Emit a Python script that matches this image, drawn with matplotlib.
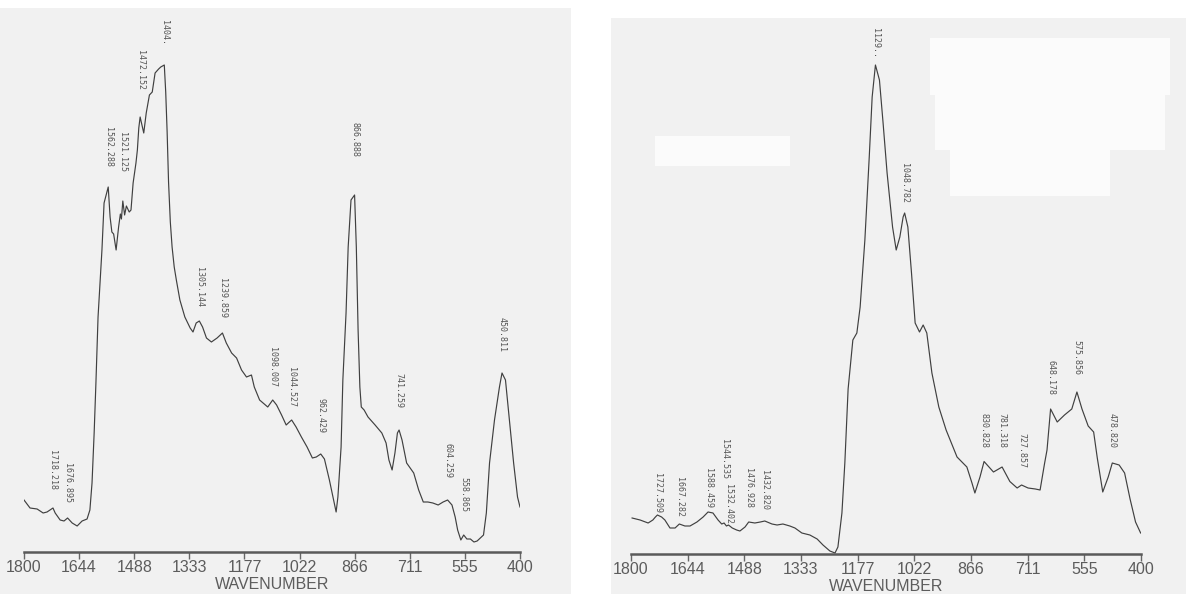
import numpy as np
import matplotlib
matplotlib.use('Agg')
import matplotlib.pyplot as plt
from matplotlib.patches import Rectangle

W, H = 1186, 594

TICK_LABELS = ['1800', '1644', '1488', '1333', '1177', '1022', '866', '711', '555', '400']

# Spectrum A (left sheet)
wn_a = [1800, 1783, 1763, 1746, 1735, 1718.2, 1712, 1698, 1687, 1677, 1664, 1650, 1636,
        1622, 1614, 1608, 1602, 1597, 1591, 1580, 1574, 1562.3, 1557, 1552, 1547, 1540,
        1533, 1528, 1525, 1521.1, 1516, 1511, 1503, 1498, 1492, 1484, 1480, 1476, 1472.2,
        1462, 1455, 1446, 1438, 1430, 1420, 1414, 1404, 1400, 1396, 1392, 1387, 1382,
        1376, 1370, 1360, 1346, 1331, 1323, 1314, 1305.1, 1296, 1285, 1271, 1255, 1239.9,
        1229, 1214, 1200, 1186, 1172, 1158, 1150, 1135, 1112, 1098, 1087, 1073, 1060,
        1051, 1044.5, 1032, 1017, 1001, 986, 975, 962.4, 952, 938, 928, 919, 914, 905,
        900, 891, 885, 877, 866.9, 862, 857, 852, 848, 840, 829, 809, 790, 778, 770, 761,
        753, 746, 741.3, 733, 720, 700, 686, 673, 660, 646, 631, 617, 604.3, 592, 583,
        576, 567, 558.9, 550, 540, 530, 521, 512, 503, 495, 486, 472, 458, 450.8, 441,
        430, 418, 407, 400]
sig_a = [10.4, 8.8, 8.6, 7.8, 8.0, 8.8, 7.8, 6.4, 6.2, 6.8, 5.8, 5.2, 6.2,
         6.6, 8.4, 13.8, 23.8, 33.8, 47.0, 60.4, 69.8, 73.0, 67.0, 64.0, 63.6, 60.4,
         65.0, 67.6, 66.6, 70.2, 67.4, 69.2, 68.0, 68.4, 73.8, 77.8, 80.4, 84.8, 87.0,
         83.8, 87.8, 91.4, 92.0, 95.8, 96.6, 97.0, 97.4, 92.0, 84.0, 74.0, 66.0, 61.0,
         57.0, 54.4, 50.4, 47.0, 44.8, 44.0, 45.8, 46.2, 45.0, 42.8, 42.0, 42.8, 43.8,
         41.8, 39.8, 38.8, 36.4, 35.0, 35.4, 33.0, 30.4, 29.0, 30.4, 29.4, 27.4, 25.4,
         26.0, 26.4, 25.0, 23.0, 21.0, 18.8, 19.0, 19.6, 18.6, 14.4, 11.0, 8.0, 11.0, 21.0,
         34.4, 47.8, 61.0, 70.4, 71.4, 61.0, 44.4, 33.0, 29.0, 28.4, 27.0, 25.4, 23.8, 21.8,
         18.4, 16.4, 19.8, 23.8, 24.4, 22.4, 17.8, 15.8, 12.4, 10.0, 10.0, 9.8, 9.4, 10.0,
         10.4, 9.4, 7.0, 4.4, 2.4, 3.4, 2.6, 2.6, 2.0, 2.2, 2.8, 3.4, 7.8, 17.8, 26.4, 33.0,
         35.8, 34.4, 26.4, 17.8, 11.0, 9.0]
peaks_a = ['1718.218', '1676.895', '1562.288', '1521.125', '1472.152', '1404.',
           '1305.144', '1239.859', '1098.007', '1044.527', '962.429', '866.888',
           '741.259', '604.259', '558.865', '450.811']
# height of the top of each peak label, in signal units
label_y_a = [20.4, 17.8, 85.0, 84.0, 100.4, 106.4, 57.0, 54.8, 41.0, 37.0, 30.8, 86.0,
             35.8, 21.8, 15.0, 47.0]

# Spectrum B (right sheet)
wn_b = [1797, 1775, 1753, 1740, 1733, 1727.5, 1716, 1707, 1693, 1679, 1667.3, 1652, 1638,
        1619, 1602, 1588.5, 1575, 1561, 1551, 1544.5, 1538, 1532.4, 1522, 1510, 1501,
        1487, 1476.9, 1460, 1445, 1432.8, 1413, 1399, 1383, 1364, 1350, 1331, 1309, 1289,
        1273, 1254, 1240, 1232, 1221, 1213, 1204, 1191, 1180, 1171, 1158, 1146, 1138,
        1129, 1118, 1108, 1097, 1082, 1072, 1062, 1053, 1048.8, 1040, 1030, 1020, 1008,
        998, 988, 974, 955, 935, 905, 878, 864, 856, 842, 830.8, 805, 781.3, 760, 740,
        727.9, 710, 690, 677, 665, 658, 648.2, 630, 610, 590, 575.9, 562, 545, 530, 520,
        505, 490, 478.8, 460, 445, 430, 415, 401]
sig_b = [7.2, 6.8, 6.2, 6.8, 7.4, 7.8, 7.4, 6.8, 5.2, 5.2, 6.0, 5.6, 5.6,
         6.4, 7.4, 8.4, 8.2, 6.8, 6.0, 6.2, 5.6, 5.8, 5.2, 4.8, 4.6,
         5.4, 6.4, 6.2, 6.4, 6.6, 6.0, 5.8, 6.0, 5.6, 5.2, 4.2, 3.8, 3.0,
         1.8, 0.6, 0.2, 1.4, 8.2, 18.2, 33.0, 42.8, 44.2, 49.4, 62.8, 79.4, 91.4,
         97.8, 94.8, 86.2, 76.2, 65.4, 60.8, 63.4, 67.4, 68.2, 65.4, 56.2, 46.2, 44.4,
         45.8, 44.2, 36.2, 29.4, 24.8, 19.4, 17.4, 14.2, 12.2, 15.4, 18.5, 16.4, 17.4, 14.5, 13.2,
         13.8, 13.2, 13.0, 12.8, 18.0, 20.8, 29.0, 26.4, 27.8, 29.0, 32.4, 29.0, 25.6, 24.4, 19.2,
         12.4, 15.4, 18.2, 17.8, 16.2, 11.0, 6.4, 4.2]
peaks_b = ['1727.509', '1667.282', '1588.459', '1544.535', '1532.402', '1476.928',
           '1432.820', '1129..', '1048.782', '830.828', '781.318', '727.857',
           '648.178', '575.856', '478.820']
label_y_b = [16.2, 15.4, 17.2, 23.0, 14.0, 17.2, 16.8, 105.2, 78.2, 28.2, 28.2, 24.2,
             38.8, 42.8, 28.2]

PAPER = '#f1f1f1'
INK = '#404040'
AXIS_FONT = 'Liberation Sans'
AXIS_GREY = '#5c5c5c'


def px_rect(x0, y0, x1, y1, color, z=0):
    # rectangle given in pixel coordinates from the top-left corner
    return Rectangle((x0 / W, 1 - y1 / H), (x1 - x0) / W, (y1 - y0) / H,
                     transform=fig.transFigure, facecolor=color, edgecolor='none', zorder=z)


def draw_spectrum(ax, wn, sig, labels, label_y):
    ax.plot(wn, sig, color=INK, linewidth=0.85)
    for text, y in zip(labels, label_y):
        ax.text(float(text.rstrip('.')), y, text, rotation=270, ha='center', va='top',
                fontsize=6.0, family='DejaVu Sans Mono', color='#555555', clip_on=False)
    ax.set_xlim(1800, 400)
    ax.set_ylim(0, 100)
    ax.set_xticks(np.linspace(1800, 400, len(TICK_LABELS)))
    ax.set_xticklabels(TICK_LABELS, family=AXIS_FONT, fontsize=11.5, color=AXIS_GREY)
    ax.tick_params(axis='x', direction='out', length=5, width=1, color='#666666', pad=0.5)
    ax.set_yticks([])
    for side in ['left', 'right', 'top']:
        ax.spines[side].set_visible(False)
    ax.spines['bottom'].set_linewidth(1.8)
    ax.spines['bottom'].set_color('#5a5a5a')
    ax.set_xlabel('WAVENUMBER', family=AXIS_FONT, fontsize=11.5, color=AXIS_GREY)
    ax.xaxis.set_label_coords(0.5, -0.05)
    ax.patch.set_alpha(0)


fig = plt.figure(figsize=(W / 100, H / 100), dpi=100, facecolor='white')

# scanned sheets behind the plots
fig.add_artist(px_rect(0, 8, 571, 594, PAPER))
fig.add_artist(px_rect(611, 18, 1186, 594, PAPER))
# correction-fluid patches on the second sheet
for x0, y0, x1, y1 in [(655, 136, 790, 166), (930, 38, 1170, 95), (935, 95, 1165, 150),
                       (950, 150, 1110, 196)]:
    fig.add_artist(px_rect(x0, y0, x1, y1, '#fbfbfb', z=0.5))

ax1 = fig.add_axes([24 / W, 1 - 552 / H, 496 / W, 500 / H])
draw_spectrum(ax1, wn_a, sig_a, peaks_a, label_y_a)

ax2 = fig.add_axes([631 / W, 1 - 554 / H, 510 / W, 500 / H])
draw_spectrum(ax2, wn_b, sig_b, peaks_b, label_y_b)

fig.savefig('out.png', dpi=100, facecolor='white')
